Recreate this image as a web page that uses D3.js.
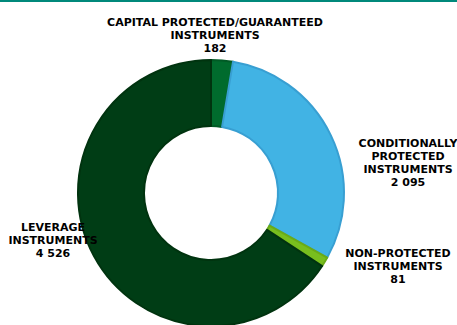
<!DOCTYPE html>
<html>
<head>
<meta charset="utf-8">
<script src="https://cdn.jsdelivr.net/npm/d3@7"></script>
<style>
  body { margin: 0; background: #fff; }
  svg text { font-family: "DejaVu Sans", Verdana, sans-serif; font-weight: bold; font-size: 11px; fill: #000; }
</style>
</head>
<body>
<svg width="457" height="325"></svg>
<script>
// data
var categories = ["CAPITAL PROTECTED/GUARANTEED INSTRUMENTS",
                  "CONDITIONALLY PROTECTED INSTRUMENTS",
                  "NON-PROTECTED INSTRUMENTS",
                  "LEVERAGE INSTRUMENTS"];
var values = [182, 2095, 81, 4526];
var valueLabels = ["182", "2 095", "81", "4 526"];
var labelLines = [
  ["CAPITAL PROTECTED/GUARANTEED", "INSTRUMENTS"],
  ["CONDITIONALLY", "PROTECTED", "INSTRUMENTS"],
  ["NON-PROTECTED", "INSTRUMENTS"],
  ["LEVERAGE", "INSTRUMENTS"]
];

// styling / layout
var colors = ["#006b2d", "#41b3e4", "#78be1e", "#003d15"];
var strokes = ["#005a25", "#389fd2", "#6aab18", "#00330f"];
var labelPos = [[215, 26], [408, 147], [398, 257], [53, 231]];

var svg = d3.select("svg"),
    width = +svg.attr("width"),
    height = +svg.attr("height");

// thin teal rule at the very top
svg.append("rect")
    .attr("x", 0).attr("y", 0)
    .attr("width", width).attr("height", 2)
    .attr("fill", "#00897b");

var cx = 211, cy = 193, outerR = 133, innerR = 67;

var pie = d3.pie().sort(null).value(function(d) { return d; });
var arc = d3.arc().innerRadius(innerR).outerRadius(outerR);

var g = svg.append("g").attr("transform", "translate(" + cx + "," + cy + ")");

g.selectAll("path")
  .data(pie(values))
  .enter().append("path")
    .attr("d", arc)
    .attr("fill", function(d, i) { return colors[i]; })
    .attr("stroke", function(d, i) { return strokes[i]; })
    .attr("stroke-width", 2)
    .attr("stroke-linejoin", "round");

// labels
var lab = svg.selectAll("text.lab")
  .data(categories)
  .enter().append("text")
    .attr("class", "lab")
    .attr("text-anchor", "middle")
    .attr("x", function(d, i) { return labelPos[i][0]; })
    .attr("y", function(d, i) { return labelPos[i][1]; });

lab.each(function(d, i) {
  var t = d3.select(this);
  var lines = labelLines[i].concat([valueLabels[i]]);
  lines.forEach(function(l, j) {
    t.append("tspan")
      .attr("x", labelPos[i][0])
      .attr("dy", j === 0 ? 0 : 13)
      .text(l);
  });
});
</script>
</body>
</html>
